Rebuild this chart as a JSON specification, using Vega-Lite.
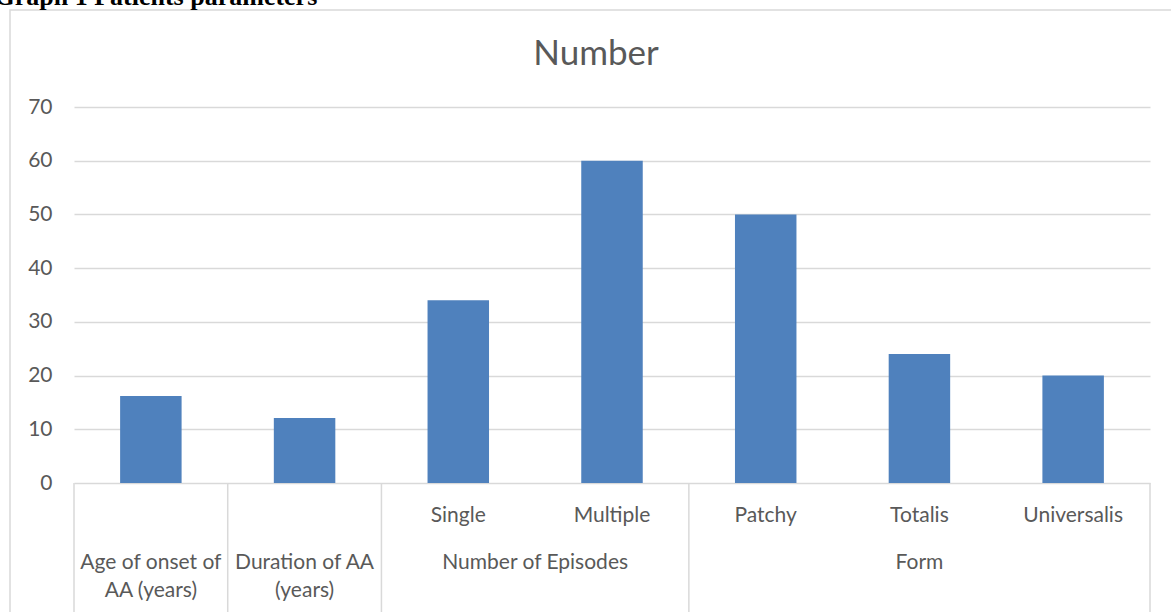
{
  "$schema": "https://vega.github.io/schema/vega-lite/v6.json",
  "width": 1171,
  "height": 611,
  "autosize": {"type": "none"},
  "padding": {"left": 10, "top": 10, "right": 0, "bottom": 0},
  "background": "white",
  "config": {
    "view": {"stroke": "#d9d9d9", "strokeWidth": 1.5},
    "font": "Lato"
  },
  "data": {
    "values": [
      {"group": "Age of onset of AA (years)", "category": "Age of onset of AA (years)", "sub": "", "value": 16.2},
      {"group": "Duration of AA (years)", "category": "Duration of AA (years)", "sub": "", "value": 12.1},
      {"group": "Number of Episodes", "category": "Single", "sub": "Single", "value": 34},
      {"group": "Number of Episodes", "category": "Multiple", "sub": "Multiple", "value": 60},
      {"group": "Form", "category": "Patchy", "sub": "Patchy", "value": 50},
      {"group": "Form", "category": "Totalis", "sub": "Totalis", "value": 24},
      {"group": "Form", "category": "Universalis", "sub": "Universalis", "value": 20}
    ]
  },
  "encoding": {
    "x": {
      "field": "category",
      "type": "nominal",
      "sort": null,
      "scale": {
        "domain": ["Age of onset of AA (years)", "Duration of AA (years)", "Single", "Multiple", "Patchy", "Totalis", "Universalis"],
        "range": [64, 1140],
        "paddingInner": 0,
        "paddingOuter": 0
      },
      "axis": {
        "orient": "top",
        "title": "Number",
        "labels": false,
        "ticks": false,
        "domain": false,
        "grid": false,
        "titleX": 585.5,
        "titleY": 54,
        "titleAlign": "center",
        "titleBaseline": "alphabetic",
        "titleFont": "Lato",
        "titleFontSize": 35,
        "titleFontWeight": "normal",
        "titleColor": "#595959"
      }
    },
    "y": {
      "field": "value",
      "type": "quantitative",
      "scale": {"domain": [0, 70], "range": [473, 97], "nice": false, "zero": false},
      "axis": {
        "orient": "left",
        "offset": -64,
        "title": "Graph 1 Patients parameters",
        "titleAngle": 0,
        "titleX": -80,
        "titleY": -6,
        "titleAlign": "left",
        "titleBaseline": "alphabetic",
        "titleFont": "Liberation Serif",
        "titleFontSize": 26,
        "titleFontWeight": "bold",
        "titleColor": "black",
        "values": [0, 10, 20, 30, 40, 50, 60, 70],
        "domain": false,
        "ticks": false,
        "grid": true,
        "gridColor": "#d9d9d9",
        "gridWidth": 1.5,
        "labelPadding": 22,
        "labelFont": "Lato",
        "labelFontSize": 21,
        "labelColor": "#595959"
      }
    }
  },
  "layer": [
    {
      "mark": {"type": "bar", "width": {"band": 0.4}, "color": "#4f81bd"}
    },
    {
      "transform": [{"filter": "datum.sub == '' || datum.category == 'Single' || datum.category == 'Patchy'"}],
      "mark": {"type": "rule", "color": "#d9d9d9", "strokeWidth": 1.5},
      "encoding": {
        "x": {"field": "category", "type": "nominal", "sort": null, "bandPosition": 0},
        "y": {"datum": 0},
        "y2": {"datum": -27}
      }
    },
    {
      "transform": [{"filter": "datum.category == 'Universalis'"}],
      "mark": {"type": "rule", "color": "#d9d9d9", "strokeWidth": 1.5},
      "encoding": {
        "x": {"field": "category", "type": "nominal", "sort": null, "bandPosition": 1},
        "y": {"datum": 0},
        "y2": {"datum": -27}
      }
    },
    {
      "mark": {"type": "text", "font": "Lato", "fontSize": 21, "color": "#595959", "baseline": "alphabetic", "align": "center"},
      "encoding": {
        "y": {"datum": -7.3},
        "text": {"field": "sub"}
      }
    },
    {
      "transform": [{"filter": "datum.category == 'Age of onset of AA (years)'"}],
      "mark": {"type": "text", "text": ["Age of onset of", "AA (years)"], "font": "Lato", "fontSize": 21, "color": "#595959", "baseline": "alphabetic", "align": "center", "lineHeight": 28},
      "encoding": {
        "y": {"datum": -16}
      }
    },
    {
      "transform": [{"filter": "datum.category == 'Duration of AA (years)'"}],
      "mark": {"type": "text", "text": ["Duration of AA", "(years)"], "font": "Lato", "fontSize": 21, "color": "#595959", "baseline": "alphabetic", "align": "center", "lineHeight": 28},
      "encoding": {
        "y": {"datum": -16}
      }
    },
    {
      "transform": [{"filter": "datum.category == 'Multiple'"}],
      "mark": {"type": "text", "font": "Lato", "fontSize": 21, "color": "#595959", "baseline": "alphabetic", "align": "center"},
      "encoding": {
        "x": {"field": "category", "type": "nominal", "sort": null, "bandPosition": 0},
        "y": {"datum": -16},
        "text": {"field": "group"}
      }
    },
    {
      "transform": [{"filter": "datum.category == 'Totalis'"}],
      "mark": {"type": "text", "font": "Lato", "fontSize": 21, "color": "#595959", "baseline": "alphabetic", "align": "center"},
      "encoding": {
        "y": {"datum": -16},
        "text": {"field": "group"}
      }
    }
  ]
}
